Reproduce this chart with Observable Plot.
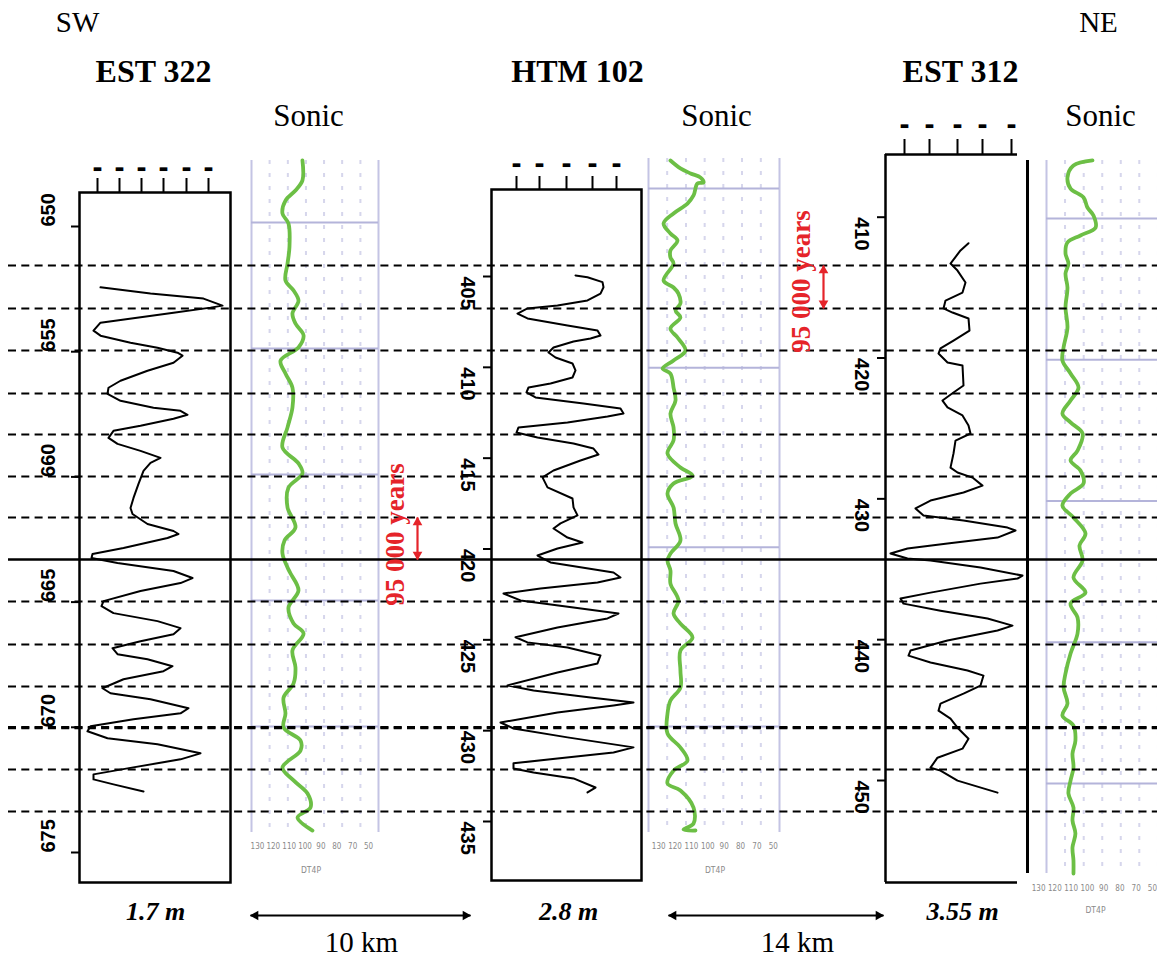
<!DOCTYPE html>
<html><head><meta charset="utf-8">
<script src="https://cdn.jsdelivr.net/npm/d3@7"></script>
<script src="https://cdn.jsdelivr.net/npm/@observablehq/plot@0.6"></script>
<style>
html,body{margin:0;padding:0;background:#fff;}
#fig{position:relative;width:1157px;height:960px;overflow:hidden;background:#fff;}
</style></head>
<body><div id="fig"></div>
<script>
// ================= DATA =================
const compass = ["SW", "NE"];
const wellNames = ["EST 322", "HTM 102", "EST 312"];
const sonicTitle = "Sonic";
const cycleThickness = ["1.7 m", "2.8 m", "3.55 m"];
const distances = ["10 km", "14 km"];
const cycleDuration = "95 000 years";
const sonicCurveName = "DT4P";

// depth tick labels of each well (m)
const est322DepthTicks = [650, 655, 660, 665, 670, 675];
const htmDepthTicks = [405, 410, 415, 420, 425, 430, 435];
const est312DepthTicks = [410, 420, 430, 440, 450];
// gamma-ray header ticks (unreadable labels)
const est322GrTicks = [-2, 20, 42, 64, 87, 109];
const htmGrTicks = [0, 23, 50, 76, 100];
const est312GrTicks = [0, 25, 53, 78, 107];
// sonic track scale
const sonicTickValues = [130, 120, 110, 100, 90, 80, 70, 60];
const sonicTickLabels = ["130", "120", "110", "100", "90", "80", "70", "50"];
const sonicGrid = [123.6, 112.1, 100.7, 89.3, 77.9, 66.4];
const est322SonicDepthLines = [650, 655, 660, 665, 670];
const htmSonicDepthLines = [400, 410, 420, 430];
const est312SonicDepthLines = [410, 420, 430, 440, 450];
// correlation surfaces (EST 322 depth, m), datum = solid line
const correlationDepths = [651.56, 653.27, 654.95, 656.67, 658.31, 659.98, 661.62, 664.98, 666.69, 668.37, 670.01, 671.69, 673.36];
const boldCorrelationDepth = [670.01];
const datumDepth = [663.30];

// gamma-ray logs: [depth, GR]
const est322Gr = [[652.43,1],[652.68,51],[652.88,104],[653.16,123],[653.24,111],[653.44,74],[653.84,1],[654.16,-6],[654.36,1],[654.64,31],[654.84,58],[655.04,78],[655.16,83],[655.44,74],[655.76,48],[656.16,21],[656.44,9],[656.68,8],[656.96,21],[657.24,54],[657.36,81],[657.52,88],[657.68,74],[657.96,41],[658.16,14],[658.44,9],[658.68,18],[658.96,41],[659.24,61],[659.44,51],[659.76,44],[660.28,39],[660.84,34],[661.24,31],[661.48,33],[661.88,48],[662.16,74],[662.28,79],[662.44,68],[662.84,24],[663.08,-7],[663.24,-8],[663.44,18],[663.76,74],[664.04,93],[664.24,81],[664.56,41],[664.96,4],[665.16,2],[665.44,14],[665.76,58],[666.04,81],[666.28,74],[666.56,41],[666.84,13],[667.08,18],[667.28,48],[667.56,73],[667.76,64],[668.08,24],[668.44,3],[668.64,11],[668.88,51],[669.24,89],[669.44,81],[669.68,34],[669.96,-9],[670.16,-12],[670.44,8],[670.68,58],[671.04,101],[671.28,81],[671.64,28],[671.88,-6],[672.08,-6],[672.28,14],[672.56,44]];
const htmGr = [[404.94,59],[405.04,71],[405.31,86],[405.59,87],[405.94,84],[406.32,71],[406.60,41],[406.76,11],[407.04,1],[407.31,11],[407.70,51],[407.97,81],[408.25,84],[408.41,74],[408.58,57],[408.91,37],[409.18,32],[409.46,39],[409.79,56],[410.17,59],[410.56,56],[410.89,34],[411.11,12],[411.38,10],[411.66,19],[411.99,67],[412.27,104],[412.54,107],[412.71,91],[413.04,51],[413.31,2],[413.59,0],[413.86,21],[414.19,57],[414.47,77],[414.80,82],[415.13,64],[415.68,37],[416.06,26],[416.61,31],[417.22,56],[417.71,57],[418.15,61],[418.59,44],[418.87,37],[419.37,51],[419.64,66],[419.97,41],[420.36,21],[420.74,34],[421.29,97],[421.57,104],[421.84,81],[422.17,24],[422.45,-13],[422.83,4],[423.22,57],[423.55,102],[423.82,91],[424.32,41],[424.86,-1],[425.14,11],[425.42,51],[425.86,84],[426.30,81],[426.80,41],[427.51,-9],[427.79,17],[428.17,74],[428.45,117],[428.61,97],[429.00,41],[429.55,-16],[429.88,-3],[430.37,51],[430.92,117],[431.20,97],[431.53,41],[431.80,-3],[432.08,-3],[432.30,17],[432.63,57],[433.13,79],[433.40,71]];
const est312Gr = [[411.85,64],[412.36,56],[413.29,46],[413.79,53],[414.64,61],[415.35,58],[415.92,41],[416.48,39],[416.77,48],[417.19,64],[418.05,65],[418.76,49],[419.32,36],[419.68,34],[420.32,43],[420.53,58],[421.95,59],[422.45,49],[423.02,38],[423.51,43],[424.08,58],[424.79,64],[425.36,66],[425.86,51],[426.78,49],[427.78,46],[428.13,53],[428.49,68],[429.06,78],[429.55,59],[430.12,26],[430.68,11],[431.18,19],[431.54,59],[432.04,103],[432.25,111],[432.75,93],[433.17,43],[433.53,3],[433.88,-14],[434.24,3],[434.38,26],[434.88,76],[435.45,118],[435.66,113],[436.02,76],[436.66,26],[437.08,-4],[437.44,-1],[437.94,36],[438.50,83],[439.00,108],[439.35,93],[440.06,43],[440.77,6],[441.13,4],[441.62,26],[442.19,63],[442.55,79],[443.26,76],[443.83,59],[444.54,36],[445.04,34],[445.61,46],[446.25,53],[447.03,64],[447.74,58],[448.38,33],[449.09,26],[449.30,36],[450.01,53],[450.86,93]];

// sonic logs: [depth, DT (us/ft)]
const est322Sonic = [[647.54,102.9],[648.33,102.9],[648.73,107.3],[649.13,113.6],[649.64,115.5],[650.04,111.7],[650.99,111.1],[651.63,112.3],[652.30,113.6],[652.70,108.5],[653.10,105.4],[653.61,109.2],[654.01,107.3],[654.48,102.2],[654.96,105.4],[655.48,116.7],[655.99,113.6],[656.55,109.2],[657.34,109.2],[658.13,112.3],[658.93,115.5],[659.56,105.4],[659.96,102.9],[660.52,111.7],[661.31,112.3],[662.10,107.3],[662.62,114.2],[663.13,115.5],[663.69,112.3],[663.93,110.4],[664.60,105.4],[665.28,111.7],[665.91,108.5],[666.31,102.2],[666.98,109.2],[667.66,107.3],[668.29,108.5],[668.85,114.8],[669.48,113.6],[670.04,114.8],[670.56,104.1],[670.95,104.1],[671.63,115.5],[672.14,108.5],[672.66,99.7],[673.21,97.8],[673.61,106.0],[674.13,96.6]];
const htmSonic = [[398.44,121.6],[398.88,115.5],[399.16,109.3],[399.39,103.2],[399.67,101.4],[399.72,105.1],[400.39,107.5],[400.84,111.2],[401.39,119.7],[401.95,125.8],[402.51,121.6],[402.90,117.3],[403.46,121.6],[403.85,121.6],[404.18,119.7],[405.13,125.8],[405.52,119.7],[405.86,116.7],[406.41,115.5],[406.80,118.5],[407.19,115.5],[407.81,121.6],[408.31,117.3],[409.04,112.4],[409.59,119.7],[410.04,126.4],[410.32,121.6],[411.10,119.7],[411.82,118.5],[412.55,121.6],[413.33,119.7],[414.05,119.7],[414.78,123.4],[415.56,115.5],[416.01,108.1],[416.45,119.7],[417.01,123.4],[417.79,119.7],[418.68,118.5],[419.63,115.5],[420.36,121.6],[420.75,123.4],[421.30,121.6],[422.03,121.6],[422.98,116.7],[423.70,119.7],[424.26,115.5],[425.04,108.1],[425.77,115.5],[426.88,115.5],[427.83,115.5],[428.55,121.6],[429.28,123.4],[430.39,123.4],[431.17,115.5],[431.90,111.2],[432.46,119.7],[433.18,123.4],[433.57,115.5],[434.52,107.5],[435.41,107.5],[435.75,113.6],[435.80,106.3]];
const est312Sonic = [[405.89,106.7],[406.25,118.4],[407.10,122.1],[407.88,120.2],[408.51,112.2],[409.22,109.8],[409.79,106.1],[410.64,104.8],[411.20,114.1],[411.70,122.1],[412.48,123.3],[413.19,121.5],[413.89,123.3],[414.89,122.1],[416.30,123.3],[417.72,122.1],[419.13,124.5],[420.05,125.2],[420.97,120.2],[421.97,115.3],[422.89,120.2],[423.81,125.2],[424.44,120.2],[425.22,112.8],[426.43,115.9],[427.13,120.2],[427.84,114.1],[428.76,112.2],[429.47,120.2],[430.32,125.2],[431.17,118.4],[432.30,111.0],[433.15,114.7],[434.21,112.8],[435.42,118.4],[436.48,111.0],[437.26,120.2],[438.25,115.9],[439.38,115.9],[440.80,120.2],[442.21,123.3],[443.20,124.5],[444.34,122.1],[445.19,125.2],[445.90,118.4],[446.96,117.2],[447.88,119.0],[448.87,118.4],[449.79,120.2],[450.71,121.5],[451.70,118.4],[452.62,119.0],[453.54,117.2],[454.53,119.0],[455.45,118.4],[456.37,118.4]];

// ================= LAYOUT (pixels / styles) =================
const W = 1157, H = 960;
const serif = "'Liberation Serif','Times New Roman',serif";
const sans = "'Liberation Sans',Arial,sans-serif";
const narrow = "'Liberation Sans Narrow','DejaVu Sans Condensed','Liberation Sans',sans-serif";
const GREEN = "#6cbf45", LAV = "#c4c4e4", LAVDOT = "#d6d6ec", RED = "#e5242a";

const logCfg = [
  {data: est322Gr, xDomain: [-20, 131], xRange: [79, 230], yDomain: [650, 675], yRange: [226, 852],
   box: {left: 79, right: 230, top: 192, bottom: 882}, grTicks: est322GrTicks, tickSize: 15, glyphDy: -28,
   depthTicks: est322DepthTicks, labelDx: -31, labelRotate: -90},
  {data: htmGr, xDomain: [-25, 125], xRange: [491, 641], yDomain: [405, 435], yRange: [276, 821],
   box: {left: 491, right: 641, top: 189, bottom: 880}, grTicks: htmGrTicks, tickSize: 14, glyphDy: -29,
   depthTicks: htmDepthTicks, labelDx: -24, labelRotate: 90},
  {data: est312Gr, xDomain: [-19, 123], xRange: [885, 1027], yDomain: [410, 450], yRange: [216.7, 780],
   box: {left: 885, right: 1027, top: 154, bottom: 882}, grTicks: est312GrTicks, tickSize: 16, glyphDy: -33,
   depthTicks: est312DepthTicks, labelDx: -24, labelRotate: 90,
   openRight: {boxRight: 1017, top: 160, bottom: 873}}
];
const sonicCfg = [
  {data: est322Sonic, xRange: [251, 378], yDomain: [650, 670], yRange: [222, 726],
   box: {left: 251, right: 378, top: 160, bottom: 832}, lines: est322SonicDepthLines, labelDx: -2, labelDy: 16, nameDx: -4, nameDy: 40},
  {data: htmSonic, xRange: [648, 779], yDomain: [400, 430], yRange: [188, 726],
   box: {left: 648, right: 779, top: 158, bottom: 832}, lines: htmSonicDepthLines, labelDx: 2, labelDy: 16, nameDx: 1, nameDy: 40},
  {data: est312Sonic, xRange: [1046, 1176], yDomain: [410, 450], yRange: [218, 783],
   box: {left: 1046, right: 1176, top: 160, bottom: 873}, lines: est312SonicDepthLines, labelDx: -16, labelDy: 17, nameDx: -16, nameDy: 39}
];
const pos = {
  compassX: [77, 1098], compassY: 22,
  wellX: [153, 577, 960], wellY: 71,
  sonicX: [308, 716, 1100], sonicY: 116,
  thickX: [155, 568, 962], thickY: 911,
  distX: [361, 797], distY: 942,
  kmArrows: [{x1: 250, x2: 470, y: 915}, {x1: 668, x2: 883, y: 915}],
  corrX1: 8,
  ageArrows: [{x: 417, top: correlationDepths[6], bottom: datumDepth[0]}, {x: 823, top: correlationDepths[0], bottom: correlationDepths[1]}],
  ageText: [{x: 395, y: 662.3}, {x: 801, y: 652.2}]
};

// ================= DRAW =================
const fig = document.getElementById("fig");
function add(p) { p.style.position = "absolute"; p.style.left = "0px"; p.style.top = "0px"; fig.appendChild(p); }
const pairs = arr => arr.map(([depth, value]) => ({depth, value}));
const base = {width: W, height: H, style: {background: "transparent", overflow: "visible"}};

function marginsOf(b) { return {marginLeft: b.left, marginRight: W - b.right, marginTop: b.top, marginBottom: H - b.bottom}; }

// sonic tracks
for (const c of sonicCfg) {
  const ticks = sonicTickValues.map((v, i) => ({v, label: sonicTickLabels[i]}));
  add(Plot.plot({
    ...base, ...marginsOf(c.box),
    x: {domain: [135, 55], range: c.xRange, axis: null, label: null},
    y: {domain: c.yDomain, range: c.yRange, axis: null, label: null},
    marks: [
      Plot.ruleX(sonicGrid, {stroke: LAVDOT, strokeWidth: 2, strokeDasharray: "4,9"}),
      Plot.ruleX([135, 55], {stroke: LAV, strokeWidth: 2}),
      Plot.ruleY(c.lines, {stroke: "#b4b4da", strokeWidth: 2}),
      Plot.line(pairs(c.data), {x: "value", y: "depth", stroke: GREEN, strokeWidth: 3.8, strokeLinejoin: "round", curve: "catmull-rom"}),
      Plot.text(ticks, {x: "v", text: "label", frameAnchor: "bottom", dx: c.labelDx, dy: c.labelDy, fontSize: 8, fill: "#8a8a8a", fontFamily: narrow}),
      Plot.text([sonicCurveName], {text: d => d, frameAnchor: "bottom", dx: c.nameDx, dy: c.nameDy, fontSize: 8.5, fill: "#8a8a8a", fontFamily: narrow})
    ]
  }));
}

// gamma-ray tracks
for (const c of logCfg) {
  const yS = d3.scaleLinear(c.yDomain, c.yRange), xS = d3.scaleLinear(c.xDomain, c.xRange);
  const top = yS.invert(c.box.top), bottom = yS.invert(c.box.bottom), left = xS.invert(c.box.left);
  const marks = [];
  if (c.openRight) {
    marks.push(
      Plot.ruleY([top, bottom], {x1: left, x2: xS.invert(c.openRight.boxRight), stroke: "black", strokeWidth: 2.5}),
      Plot.ruleX([left], {y1: top, y2: bottom, stroke: "black", strokeWidth: 2.5}),
      Plot.ruleX([c.xDomain[1]], {y1: yS.invert(c.openRight.top), y2: yS.invert(c.openRight.bottom), stroke: "black", strokeWidth: 3})
    );
  } else {
    marks.push(Plot.frame({stroke: "black", strokeWidth: 2.5}));
  }
  marks.push(
    Plot.axisX(c.grTicks, {anchor: "top", tickSize: c.tickSize, tickFormat: () => "", strokeWidth: 2, label: null}),
    Plot.text(c.grTicks, {x: d => d, frameAnchor: "top", dy: c.glyphDy, text: () => "▬", fontSize: 10, fontFamily: "DejaVu Sans"}),
    Plot.axisY(c.depthTicks, {anchor: "left", tickSize: 8, tickFormat: () => "", strokeWidth: 2, label: null}),
    Plot.text(c.depthTicks, {y: d => d, frameAnchor: "left", dx: c.labelDx, rotate: c.labelRotate, text: d => String(d),
      fontSize: 20, fontWeight: "bold", fontFamily: sans}),
    Plot.line(pairs(c.data), {x: "value", y: "depth", stroke: "black", strokeWidth: 2})
  );
  add(Plot.plot({
    ...base, ...marginsOf(c.box),
    x: {domain: c.xDomain, range: c.xRange, label: null},
    y: {domain: c.yDomain, range: c.yRange, label: null},
    marks
  }));
}

// correlation surfaces + age annotation (EST 322 depth reference)
add(Plot.plot({
  ...base, margin: 0,
  x: {domain: [0, W], range: [0, W], axis: null},
  y: {domain: [650, 675], range: [226, 852], axis: null, label: null},
  marks: [
    Plot.ruleY(correlationDepths, {x1: pos.corrX1, x2: W, stroke: "black", strokeWidth: 2, strokeDasharray: "8,5.3"}),
    Plot.ruleY(boldCorrelationDepth, {x1: pos.corrX1, x2: W, stroke: "black", strokeWidth: 3.2, strokeDasharray: "8,5.3"}),
    Plot.ruleY(datumDepth, {x1: pos.corrX1, x2: W, stroke: "black", strokeWidth: 2.5}),
    Plot.link(pos.ageArrows, {x1: "x", x2: "x", y1: "top", y2: "bottom", stroke: RED, strokeWidth: 2.2}),
    Plot.dot(pos.ageArrows, {x: "x", y: "top", symbol: "triangle", r: 3.6, fill: RED, dy: 5}),
    Plot.dot(pos.ageArrows, {x: "x", y: "bottom", symbol: "triangle", r: 3.6, fill: RED, rotate: 180, dy: -5}),
    Plot.text(pos.ageText, {x: "x", y: "y", text: () => cycleDuration, rotate: -90, fill: RED, fontSize: 27, fontWeight: "bold", fontFamily: serif})
  ]
}));

// titles, thickness and distance annotations
add(Plot.plot({
  ...base, margin: 0,
  x: {domain: [0, W], range: [0, W], axis: null},
  y: {domain: [0, H], range: [0, H], axis: null},
  marks: [
    Plot.text(compass, {x: (d, i) => pos.compassX[i], y: () => pos.compassY, text: d => d, fontSize: 29, fontFamily: serif}),
    Plot.text(wellNames, {x: (d, i) => pos.wellX[i], y: () => pos.wellY, text: d => d, fontSize: 32, fontWeight: "bold", fontFamily: serif}),
    Plot.text(wellNames, {x: (d, i) => pos.sonicX[i], y: () => pos.sonicY, text: () => sonicTitle, fontSize: 31, fontFamily: serif}),
    Plot.text(cycleThickness, {x: (d, i) => pos.thickX[i], y: () => pos.thickY, text: d => d, fontSize: 26, fontWeight: "bold", fontStyle: "italic", fontFamily: serif}),
    Plot.text(distances, {x: (d, i) => pos.distX[i], y: () => pos.distY, text: d => d, fontSize: 29, fontFamily: serif}),
    Plot.link(pos.kmArrows, {x1: "x1", x2: "x2", y1: "y", y2: "y", stroke: "black", strokeWidth: 2.2}),
    Plot.dot(pos.kmArrows, {x: "x1", y: "y", symbol: "triangle", r: 3.6, fill: "black", rotate: -90, dx: 5}),
    Plot.dot(pos.kmArrows, {x: "x2", y: "y", symbol: "triangle", r: 3.6, fill: "black", rotate: 90, dx: -5})
  ]
}));
</script>
</body></html>
